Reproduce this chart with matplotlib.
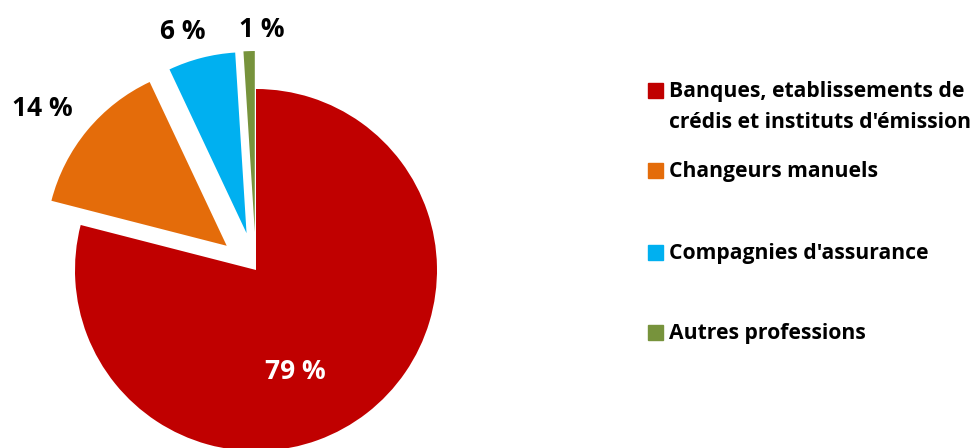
import numpy as np
import matplotlib.pyplot as plt
from matplotlib.patches import Rectangle

categories = ["Banques, etablissements de\ncrédis et instituts d'émission",
              "Changeurs manuels",
              "Compagnies d'assurance",
              "Autres professions"]
shares = [79, 14, 6, 1]
colors = ["#C00000", "#E46C0A", "#00B0F0", "#77933C"]

# label placement (angle in degrees, distance in px from pie centre)
label_angles = [-69, 143, 107, 88.6]
label_dists = [109, 268, 249, 241]
label_colors = ["white", "black", "black", "black"]

plt.rcParams['font.family'] = ['Open Sans', 'DejaVu Sans']

fig = plt.figure(figsize=(9.8, 4.48), dpi=100)
ax = fig.add_axes([0, 0, 1, 1])

cx, cy, r = 256, 178, 181
ax.pie(shares, colors=colors, startangle=90, counterclock=False,
       radius=r, center=(cx, cy), explode=[0, 38, 38, 38],
       wedgeprops=dict(linewidth=0))

for val, ang, d, c in zip(shares, label_angles, label_dists, label_colors):
    t = np.deg2rad(ang)
    ax.text(cx + d * np.cos(t), cy + d * np.sin(t), f"{val} %",
            ha="center", va="center", fontsize=19, fontweight="bold", color=c)

ax.set_xlim(0, 980)
ax.set_ylim(0, 448)
ax.set_aspect("equal")
ax.axis("off")

# legend drawn by hand so the two-line entry keeps its marker on the first line
leg_y = [448 - 90, 448 - 170, 448 - 252, 448 - 332]
for lab, col, y in zip(categories, colors, leg_y):
    ax.add_patch(Rectangle((648, y - 7.5), 15, 15, color=col))
    ax.text(669, y + 9, lab, ha="left", va="top", fontsize=15.2,
            fontweight="bold", linespacing=1.6)

plt.savefig("out.png", dpi=100)
